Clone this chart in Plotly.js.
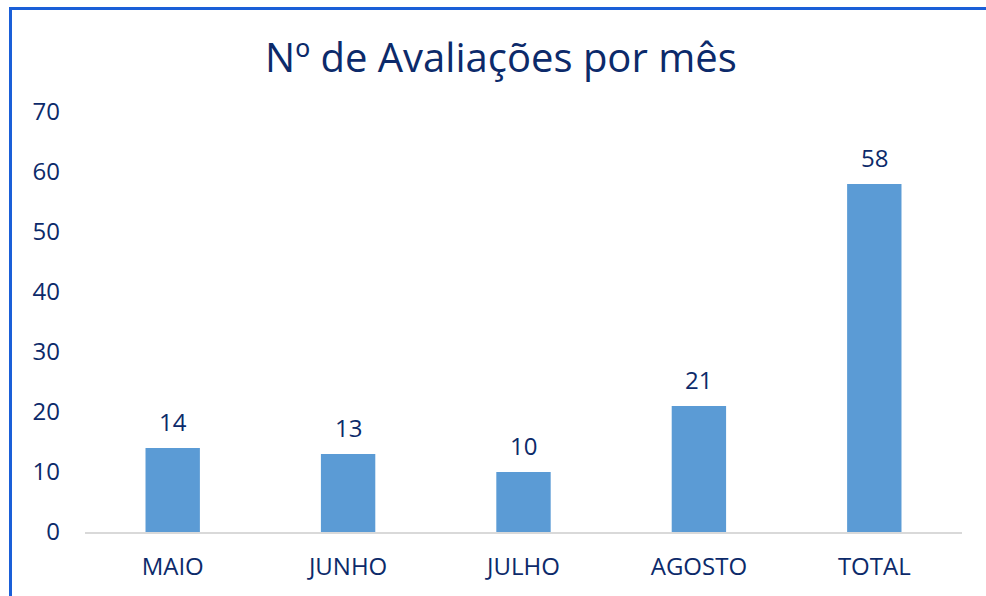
<!DOCTYPE html>
<html><head><meta charset="utf-8">
<script src="https://cdn.plot.ly/plotly-3.0.1.min.js"></script>
<style>
html,body{margin:0;padding:0;background:#fff;}
#frame{position:absolute;left:9px;top:7px;width:990px;height:600px;border-top:3px solid #1a5fd8;border-left:3px solid #1a5fd8;box-sizing:border-box;pointer-events:none;z-index:5;}
#chart{position:absolute;left:0;top:0;width:986px;height:596px;}
</style></head>
<body>
<div id="chart"></div>
<div id="frame"></div>
<script>
const categories = ["MAIO", "JUNHO", "JULHO", "AGOSTO", "TOTAL"];
const values = [14, 13, 10, 21, 58];
const yTicks = [0, 10, 20, 30, 40, 50, 60, 70];
const titleText = "Nº de Avaliações por mês";

const navy = "#0c2a6a";
const fontFam = "'Open Sans', 'Noto Sans', sans-serif";

const labels = categories.map((c, i) => ({
  x: c, y: values[i], xref: "x", yref: "y",
  text: String(values[i]), showarrow: false,
  yanchor: "middle", yshift: 27,
  font: {color: navy, size: 24, family: fontFam}
}));

Plotly.newPlot("chart", [{
  type: "bar",
  x: categories,
  y: values,
  marker: {color: "#5b9bd5"},
  hoverinfo: "none"
}], {
  width: 986, height: 596,
  margin: {l: 85, r: 24, t: 112, b: 64},
  paper_bgcolor: "#fff", plot_bgcolor: "#fff",
  bargap: 0.69,
  title: {text: titleText, x: 0.508, xanchor: "center", y: 0.903, yanchor: "middle",
    font: {color: navy, size: 40, family: fontFam}},
  xaxis: {
    type: "category",
    showline: true, linecolor: "#d9d9d9", linewidth: 2,
    ticks: "", showgrid: false,
    tickfont: {color: navy, size: 24, family: fontFam},
    ticklabelstandoff: 12
  },
  yaxis: {
    range: [0, 70], tickvals: yTicks, ticktext: yTicks.map(String),
    showgrid: false, zeroline: false, showline: false, ticks: "",
    tickfont: {color: navy, size: 24, family: fontFam},
    ticklabelstandoff: 24
  },
  annotations: labels,
  showlegend: false
}, {displayModeBar: false, staticPlot: true});
</script>
</body></html>
